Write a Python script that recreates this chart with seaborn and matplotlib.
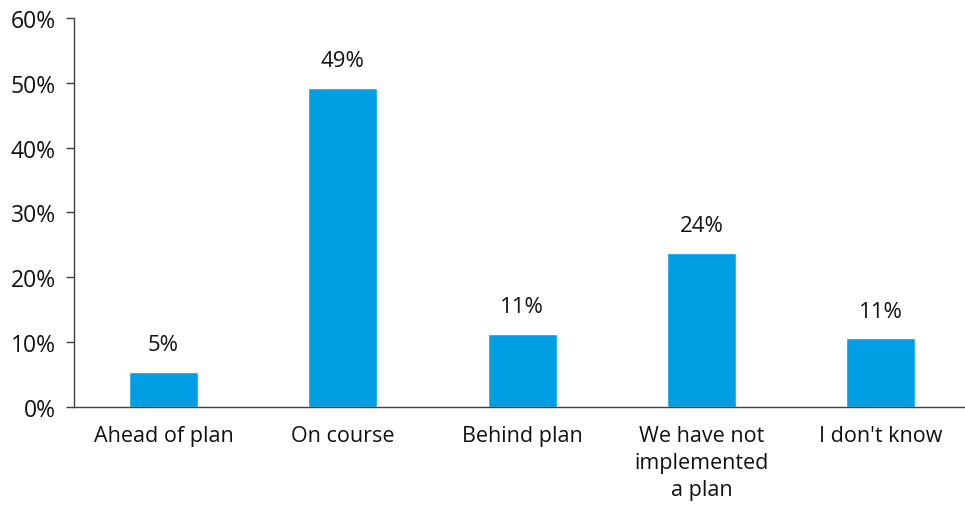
import matplotlib
matplotlib.use("Agg")
import matplotlib.pyplot as plt
import seaborn as sns
import pandas as pd
from matplotlib.ticker import FixedLocator, FuncFormatter

categories = ["Ahead of plan", "On course", "Behind plan",
              "We have not\nimplemented\na plan", "I don't know"]
shares = [5.4, 49.2, 11.3, 23.8, 10.6]
y_ticks = [0, 10, 20, 30, 40, 50, 60]

df = pd.DataFrame({"category": categories, "share": shares})

sns.set_theme(style="white")
plt.rcParams["font.family"] = ["Open Sans", "DejaVu Sans"]

fig = plt.figure(figsize=(9.65, 5.06), dpi=100)
ax = fig.add_axes([0.0765, 0.1937, 0.929, 0.7688])

sns.barplot(data=df, x="category", y="share", color="#009FE3",
            width=0.385, saturation=1, ax=ax)

ax.set_ylim(0, 60)
ax.set_xlim(-0.5, len(categories) - 0.5)
ax.set_yticks(y_ticks)
ax.yaxis.set_major_formatter(FuncFormatter(lambda v, _: f"{v:.0f}%"))
ax.set_xlabel("")
ax.set_ylabel("")

# category separators on the x axis
ax.xaxis.set_minor_locator(FixedLocator([i - 0.5 for i in range(len(categories) + 1)]))
ax.tick_params(axis="x", which="major", length=0, pad=13, labelsize=15.5)
ax.tick_params(axis="x", which="minor", length=6, width=1, color="#404040", direction="out")
ax.tick_params(axis="y", which="major", length=6, width=1, color="#404040",
               direction="out", pad=7, labelsize=16.5, left=True)
for lab in ax.get_yticklabels() + ax.get_xticklabels():
    lab.set_color("#111111")
for lab in ax.get_xticklabels():
    lab.set_linespacing(1.38)

for side in ["top", "right"]:
    ax.spines[side].set_visible(False)
for side in ["left", "bottom"]:
    ax.spines[side].set_color("#404040")
    ax.spines[side].set_linewidth(1.0)

for i, v in enumerate(shares):
    ax.annotate(f"{v:.0f}%", xy=(i, v), xytext=(0, 12), textcoords="offset points",
                ha="center", va="bottom", fontsize=16, color="#111111")

fig.savefig("out.png", dpi=100)
